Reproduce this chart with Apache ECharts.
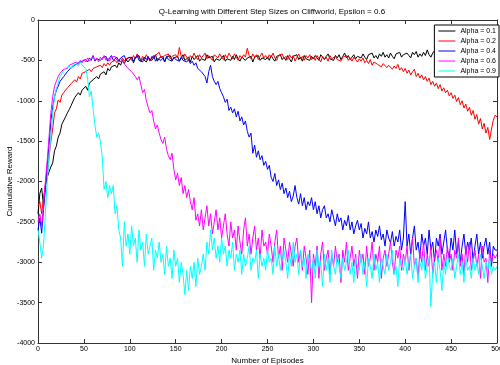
<!DOCTYPE html>
<html>
<head>
<meta charset="utf-8">
<script src="https://cdn.jsdelivr.net/npm/echarts@6/dist/echarts.min.js"></script>
<style>
  html, body { margin: 0; padding: 0; background: #fff; }
  #chart { width: 500px; height: 365px; }
</style>
</head>
<body>
<div id="chart"></div>
<script>
// one value every STEP episodes, episode 0..500
const STEP = 2;

const alpha01 = [
  -2400,-2150,-2080,-2300,-2050, -1950,-1880,-1820,-1770,-1620, -1560,-1450,-1400,-1290,-1310, -1200,-1150,-1110,-1060,-1040, -960,-980,-900,-930,-870,
  -860,-820,-870,-780,-800, -740,-760,-700,-730,-670, -690,-640,-680,-600,-630, -580,-600,-560,-590,-530, -560,-500,-540,-490,-520,
  -500,-460,-530,-470,-490, -440,-510,-480,-460,-520, -470,-450,-500,-480,-430, -510,-470,-490,-450,-520, -460,-480,-440,-500,-470,
  -490,-450,-510,-470,-430, -500,-480,-460,-520,-450, -490,-470,-440,-510,-480, -460,-500,-430,-470,-490, -450,-520,-480,-460,-500,
  -470,-440,-510,-480,-460, -500,-450,-490,-430,-480, -510,-460,-440,-500,-470, -490,-450,-520,-460,-480, -440,-500,-470,-450,-490,
  -460,-500,-440,-480,-510, -450,-470,-430,-490,-460, -500,-440,-480,-520,-450, -470,-430,-490,-460,-510, -440,-480,-460,-500,-450,
  -480,-440,-470,-500,-430, -460,-490,-450,-420,-480, -460,-500,-440,-470,-430, -490,-450,-410,-470,-440, -490,-460,-430,-480,-450,
  -440,-470,-420,-460,-490, -430,-450,-410,-470,-440, -480,-420,-450,-400,-460, -430,-470,-410,-450,-480, -420,-440,-400,-460,-430,
  -450,-410,-440,-470,-400, -430,-390,-460,-420,-450, -400,-440,-370,-430,-460, -410,-380,-440,-420,-450, -400,-430,-460,-410,-440,
  -420,-450,-400,-430,-460, -410,-440,-420,-450,-400, -430,-410,-460,-420,-440, -400,-430,-450,-410,-440, -420,-450,-400,-430,-440,
  -430
];

const alpha02 = [
  -2300,-2250,-2400,-2200,-2050, -1950,-1700,-1500,-1350,-1150, -1100,-990,-1020,-930,-900, -870,-840,-860,-790,-810, -740,-770,-700,-730,-660,
  -680,-640,-660,-610,-640, -600,-620,-580,-600,-560, -590,-540,-570,-530,-560, -520,-540,-500,-530,-490, -520,-470,-510,-480,-500,
  -460,-500,-440,-480,-420, -470,-500,-450,-490,-430, -470,-510,-450,-480,-440, -460,-400,-470,-490,-440, -460,-420,-480,-450,-470,
  -430,-470,-340,-450,-480, -420,-460,-500,-440,-470, -410,-460,-490,-430,-470, -450,-410,-480,-440,-460, -500,-430,-450,-470,-420,
  -460,-490,-430,-470,-410, -450,-480,-420,-460,-500, -440,-470,-430,-460,-350, -440,-480,-420,-460,-430, -490,-450,-410,-470,-440,
  -480,-430,-460,-410,-470, -500,-440,-460,-420,-480, -450,-490,-430,-470,-440, -510,-460,-420,-480,-450, -500,-440,-470,-430,-490,
  -460,-500,-440,-480,-520, -450,-490,-460,-510,-440, -480,-500,-450,-490,-470, -510,-460,-480,-440,-500, -470,-510,-460,-490,-520,
  -480,-510,-470,-530,-500, -540,-490,-560,-520,-500, -550,-530,-580,-540,-520, -590,-560,-540,-610,-570, -600,-550,-620,-590,-640,
  -600,-660,-620,-680,-640, -610,-700,-660,-720,-680, -740,-700,-760,-720,-800, -760,-820,-780,-850,-800, -880,-840,-900,-870,-940,
  -900,-970,-930,-1010,-960, -1050,-1000,-1090,-1040,-1130, -1080,-1180,-1120,-1230,-1170, -1290,-1220,-1350,-1280,-1400, -1330,-1480,-1350,-1240,-1180,
  -1200
];

const alpha04 = [
  -2600,-2450,-2640,-2350,-2100, -1800,-1550,-1250,-1080,-950, -870,-820,-760,-730,-700, -670,-640,-620,-590,-600, -560,-580,-530,-550,-510,
  -530,-490,-520,-470,-500, -440,-510,-480,-460,-500, -470,-490,-450,-510,-470, -440,-500,-480,-460,-510, -470,-490,-440,-500,-470,
  -490,-460,-510,-470,-440, -500,-480,-520,-460,-490, -450,-500,-470,-440,-510, -480,-460,-500,-470,-520, -450,-490,-470,-510,-460,
  -490,-470,-510,-460,-500, -480,-520,-490,-540,-510, -560,-530,-600,-580,-640, -620,-700,-780,-640,-560, -700,-760,-800,-760,-850,
  -900,-950,-1020,-980,-1120, -1080,-1150,-1100,-1200,-1130, -1250,-1200,-1300,-1250,-1380, -1450,-1400,-1650,-1550,-1700, -1620,-1730,-1680,-1800,-1750,
  -1850,-1800,-1950,-2000,-1900, -2050,-1980,-2100,-2020,-2150, -2080,-2200,-2120,-2250,-2180, -2050,-2200,-2280,-2150,-2300, -2200,-2350,-2250,-2300,-2200,
  -2350,-2250,-2400,-2300,-2450, -2350,-2300,-2450,-2400,-2500, -2350,-2450,-2550,-2400,-2500, -2450,-2600,-2480,-2550,-2420, -2600,-2500,-2650,-2550,-2480,
  -2600,-2520,-2700,-2580,-2650, -2500,-2700,-2620,-2750,-2600, -2680,-2550,-2720,-2650,-2800, -2600,-2700,-2760,-2620,-2800, -2680,-2750,-2600,-2850,-2700,
  -2250,-2800,-2650,-2900,-2700, -2550,-2850,-2750,-2950,-2650, -2800,-2700,-2900,-2600,-2850, -2750,-3000,-2700,-2800,-2650, -2900,-2750,-2600,-2850,-2950,
  -2700,-2850,-2600,-2900,-2750, -3000,-2800,-2650,-2900,-2750, -2850,-2700,-3000,-2800,-2650, -2900,-2750,-2950,-2800,-2700, -2900,-2750,-3050,-2800,-2850,
  -2850
];

const alpha06 = [
  -2500,-2400,-2550,-2300,-2000, -1750,-1450,-1150,-950,-820, -760,-700,-660,-640,-610, -590,-600,-560,-580,-540, -560,-520,-550,-500,-530,
  -490,-520,-470,-510,-480, -450,-500,-470,-520,-460, -490,-440,-500,-470,-510, -460,-480,-450,-500,-480, -520,-490,-540,-560,-600,
  -580,-640,-620,-700,-740, -700,-800,-900,-860,-1000, -1080,-1150,-1120,-1250,-1350, -1300,-1400,-1480,-1530,-1450, -1600,-1680,-1730,-1650,-1850,
  -1980,-1900,-2050,-1950,-2150, -2050,-2200,-2100,-2250,-2350, -2200,-2480,-2400,-2550,-2350, -2600,-2450,-2300,-2550,-2400, -2650,-2500,-2350,-2600,-2450,
  -2700,-2550,-2400,-2650,-2800, -2500,-2700,-2600,-2850,-2550, -2750,-2900,-2600,-2450,-2800, -2650,-2900,-2700,-2550,-2850, -2700,-2950,-2600,-2800,-2750,
  -2900,-2650,-2800,-3000,-2750, -2600,-2950,-2800,-3100,-2700, -2850,-3000,-2750,-2900,-3050, -2800,-2700,-3000,-2850,-3100, -2800,-2950,-3150,-2850,-3500,
  -2900,-3050,-2800,-3200,-2900, -2750,-3100,-2950,-2850,-3150, -2900,-3050,-2800,-3000,-2900, -3250,-2850,-3000,-2750,-3100, -2950,-2800,-3050,-2900,-3200,
  -2850,-3000,-2900,-3150,-2800, -3050,-2950,-2750,-3100,-2900, -3000,-2800,-3200,-2950,-2850, -3050,-2900,-2750,-3000,-3150, -2850,-2950,-2800,-3100,-2900,
  -3000,-2800,-3100,-2900,-2700, -3050,-2950,-3200,-2850,-3000, -2750,-3100,-2900,-3050,-2800, -3150,-2950,-2850,-3000,-2700, -3100,-2900,-3050,-2800,-3000,
  -2900,-3100,-2850,-2950,-2700, -3050,-2900,-3150,-2800,-3000, -2750,-3100,-2950,-2850,-3050, -2900,-3200,-2800,-3000,-2950, -3250,-2850,-3000,-2900,-2950,
  -2900
];

const alpha09 = [
  -2600,-2750,-2950,-2800,-2400, -2000,-1700,-1450,-1150,-950, -850,-780,-700,-660,-640, -600,-620,-570,-600,-560, -580,-540,-570,-520,-560,
  -540,-600,-720,-950,-880, -1100,-1300,-1450,-1400,-1500, -1700,-2100,-2000,-2200,-2050, -2150,-2050,-2400,-2300,-2600, -2700,-3050,-2500,-2800,-2650,
  -2900,-2550,-2800,-2700,-3000, -2600,-2850,-2750,-3050,-2650, -2900,-2800,-2700,-3100,-2850, -2950,-2750,-3000,-2900,-3150, -2800,-3050,-2950,-3200,-2850,
  -3050,-2950,-3250,-3000,-3150, -3400,-3100,-3350,-3050,-3200, -3000,-3300,-2950,-3150,-3050, -2900,-3100,-2750,-2900,-2600, -2850,-2700,-2950,-2800,-3000,
  -2700,-2900,-2800,-3050,-2850, -2950,-2750,-3100,-2900,-3000, -2850,-3150,-2900,-3050,-2950, -2800,-3100,-2950,-3000,-2850, -3200,-2900,-3050,-2950,-3100,
  -2850,-3000,-2950,-3150,-2800, -3050,-2900,-3100,-2950,-2850, -3000,-3200,-2900,-3050,-2750, -3000,-2900,-3150,-2850,-3050, -2950,-3200,-2900,-3000,-3100,
  -2950,-3200,-2850,-3050,-3000, -3300,-2900,-3100,-2950,-3250, -2850,-3050,-3150,-2900,-3050, -3200,-2950,-3100,-3000,-2850, -3150,-3000,-3250,-2950,-3050,
  -3100,-2900,-3150,-3000,-3300, -2950,-3050,-3200,-2900,-3100, -3000,-3250,-2950,-3050,-3150, -2900,-3100,-3000,-2850,-3150, -3050,-3300,-2950,-3050,-3100,
  -2950,-3150,-3000,-2900,-3200, -3050,-2950,-3250,-3000,-3100, -2900,-3200,-3050,-2950,-3550, -3100,-3000,-3250,-2950,-3100, -3350,-3000,-3150,-2900,-3050,
  -3100,-2950,-3200,-3050,-2900, -3150,-3000,-3250,-2950,-3100, -3050,-3200,-2950,-3100,-3000, -3150,-2900,-3050,-3200,-3000, -3100,-2950,-3150,-3050,-3100,
  -3050
];

const seriesNames = ['Alpha = 0.1', 'Alpha = 0.2', 'Alpha = 0.4', 'Alpha = 0.6', 'Alpha = 0.9'];
const seriesColors = ['#000000', '#ff0000', '#0000ff', '#ff00ff', '#00ffff'];
const seriesData = [alpha01, alpha02, alpha04, alpha06, alpha09];

const FONT = 'Liberation Sans, Arial, Helvetica, sans-serif';

const chart = echarts.init(document.getElementById('chart'), null, { renderer: 'canvas' });

const boxAxis = (type, position, showLabel) => {
  const isX = type === 'x';
  return {
    type: 'value',
    position: position,
    min: isX ? 0 : -4000,
    max: isX ? 500 : 0,
    interval: isX ? 50 : 500,
    axisLine: { show: true, onZero: false, lineStyle: { color: '#333', width: 1 } },
    axisTick: { show: true, inside: true, length: 4, lineStyle: { color: '#333' } },
    axisLabel: {
      show: showLabel,
      fontSize: 7,
      color: '#000',
      fontFamily: FONT,
      margin: 3,
      formatter: (v) => String(v),
    },
    splitLine: { show: false },
  };
};

const xBottom = Object.assign(boxAxis('x', 'bottom', true), {
  name: 'Number of Episodes',
  nameLocation: 'middle',
  nameGap: 14,
  nameMoveOverlap: false,
  nameTextStyle: { fontSize: 8, color: '#000', fontFamily: FONT },
});
const yLeft = Object.assign(boxAxis('y', 'left', true), {
  name: 'Cumulative Reward',
  nameLocation: 'middle',
  nameGap: 24,
  nameMoveOverlap: false,
  nameTextStyle: { fontSize: 8, color: '#000', fontFamily: FONT },
});

chart.setOption({
  animation: false,
  backgroundColor: '#fff',
  title: {
    text: 'Q-Learning with Different Step Sizes on Cliffworld, Epsilon = 0.6',
    left: 267,
    textAlign: 'center',
    top: 3,
    textStyle: { fontSize: 8, fontWeight: 'normal', color: '#000', fontFamily: FONT },
  },
  grid: { left: 38, right: 3, top: 20, bottom: 22, containLabel: false, outerBoundsMode: 'none' },
  legend: {
    data: seriesNames,
    orient: 'vertical',
    right: 1,
    top: 25,
    icon: 'rect',
    itemWidth: 17,
    itemHeight: 1,
    itemGap: 2,
    padding: [2, 3, 2, 4],
    backgroundColor: '#fff',
    borderColor: '#000',
    borderWidth: 1,
    borderRadius: 0,
    textStyle: { fontSize: 7, color: '#000', fontFamily: FONT, lineHeight: 8 },
  },
  xAxis: [xBottom, boxAxis('x', 'top', false)],
  yAxis: [yLeft, boxAxis('y', 'right', false)],
  series: seriesNames.map((name, i) => ({
    name: name,
    type: 'line',
    xAxisIndex: 0,
    yAxisIndex: 0,
    showSymbol: false,
    symbol: 'none',
    color: seriesColors[i],
    lineStyle: { width: 1, color: seriesColors[i] },
    data: seriesData[i].map((v, k) => [k * STEP, v]),
  })),
});
</script>
</body>
</html>
